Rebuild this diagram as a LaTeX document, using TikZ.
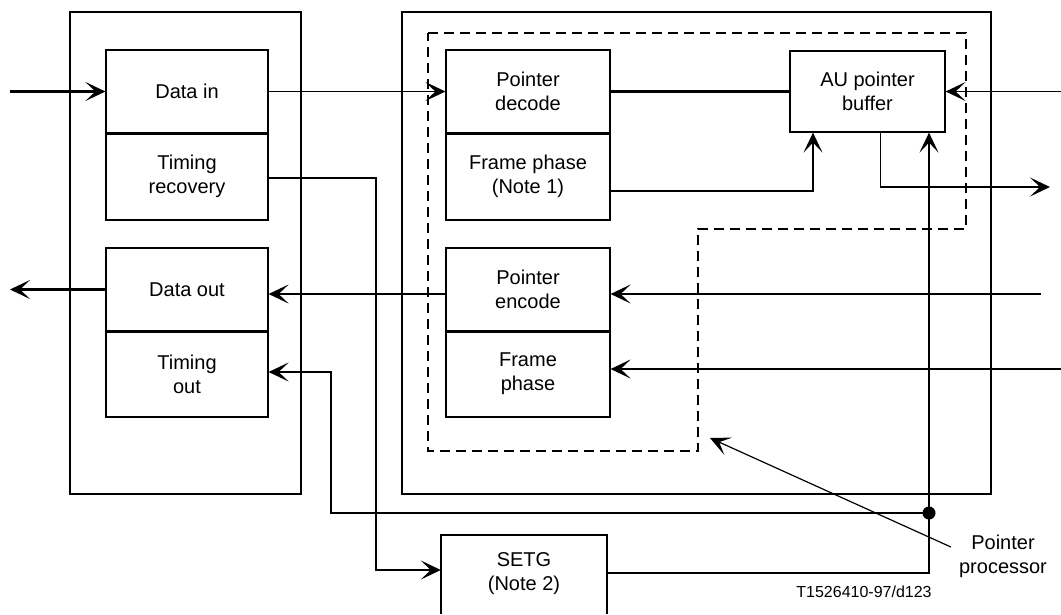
\documentclass[tikz,border=0pt]{standalone}
\usepackage{fontspec}
\setmainfont{Liberation Sans}
\usetikzlibrary{arrows.meta,calc}
\begin{document}
\begin{tikzpicture}[x=1pt,y=-1pt,
  thn/.style={line width=1.2pt},
  thk/.style={line width=2.2pt},
  arr/.style={-{Stealth[length=20pt,width=19pt,inset=10pt]}},
  blk/.style={draw, line width=1.2pt, inner sep=0pt, align=center,
    font=\fontsize{20}{24}\selectfont},
  frame/.style={draw, line width=1.2pt, inner sep=0pt},
  txt/.style={inner sep=0pt, align=center, font=\fontsize{20}{24}\selectfont},
  dsh/.style={line width=2.2pt, dash pattern=on 10pt off 6pt}
]
\useasboundingbox (0,0) rectangle (1061,614);

% frames
\node[frame, minimum width=231pt, minimum height=482pt] (leftframe) at (185.5,253) {};
\node[frame, minimum width=589pt, minimum height=482pt] (rightframe) at (696.5,253) {};
\draw[dsh] (428,33) -- (966,33) -- (966,229) -- (698,229) -- (698,451) -- (428,451) -- cycle;

% blocks
\node[blk, minimum width=162pt, minimum height=83pt] (din) at (187,91.5) {Data in};
\node[blk, minimum width=162pt, minimum height=87pt] (trec) at (187,176.5) {Timing\\recovery};
\node[blk, minimum width=162pt, minimum height=83pt] (dout) at (187,289.5) {Data out};
\node[blk, minimum width=162pt, minimum height=86pt] (tout) at (187,374) {Timing\\out};
\node[blk, minimum width=164pt, minimum height=83pt] (pdec) at (528,91.5) {Pointer\\decode};
\node[blk, minimum width=164pt, minimum height=87pt] (fp1) at (528,176.5) {Frame phase\\(Note 1)};
\node[blk, minimum width=164pt, minimum height=83pt] (penc) at (528,289.5) {Pointer\\encode};
\node[blk, minimum width=164pt, minimum height=86pt] (fp2) at (528,374) {Frame\\phase};
\node[blk, minimum width=155pt, minimum height=81pt] (au) at (867.5,91.5) {AU pointer\\buffer};
\node[txt, minimum width=166pt] (setg) at (524,574) {SETG\\(Note 2)};
\draw[thn] (441,614) -- (441,535) -- (607,535) -- (607,614);

% dividers
\draw[thk] (din.south west) -- (din.south east);
\draw[thk] (dout.south west) -- (dout.south east);
\draw[thk] (pdec.south west) -- (pdec.south east);
\draw[thk] (penc.south west) -- (penc.south east);

% connectors
\coordinate (inL) at (10,91.5);
\coordinate (inR) at (1061,91.5);
\coordinate (outR) at (1050,187);
\coordinate (inE) at (1041,294);
\coordinate (inF) at (1061,369);
\coordinate (outL) at (10,289.5);
\coordinate (dot) at (929,513);

\draw[thk,arr] (inL) -- (din.west);
\draw[thn,arr] (din.east) -- (pdec.west);
\draw[thk] (pdec.east) -- (au.west);
\draw[line width=1.6pt,arr] (inR) -- (au.east);
\draw[thn,arr] ([yshift=-14.5pt]fp1.east) -| ([xshift=-54.5pt]au.south);
\draw[line width=1.6pt,arr] ([xshift=13pt]au.south) |- (outR);
\draw[thk,arr] (inE) -- (penc.east |- inE);
\draw[thk,arr] (inF) -- (fp2.east |- inF);
\draw[thk,arr] (penc.west |- inE) -- (dout.east |- inE);
\draw[thk,arr] (dout.west) -- (outL);
\draw[thn,arr] (trec.east |- 0,178) -| (376,570) -- (setg.west |- 0,570);
\draw[thn,arr] (setg.east |- 0,573) -| ([xshift=61.5pt]au.south);
\draw[thn,arr] (dot) -| (331,372) -- (tout.east |- 0,372);
\fill (dot) circle (6.5);

% pointer processor label
\node[txt] (ppl) at (1003,556) {Pointer\\processor};
\coordinate (ppT) at (710,438);
\draw[thn,arr] ([xshift=-8pt,yshift=9pt]ppl.west) -- (ppT);

\node[inner sep=0pt, font=\fontsize{16}{19}\selectfont] (ref) at (864,592) {T1526410-97/d123};
\end{tikzpicture}
\end{document}
